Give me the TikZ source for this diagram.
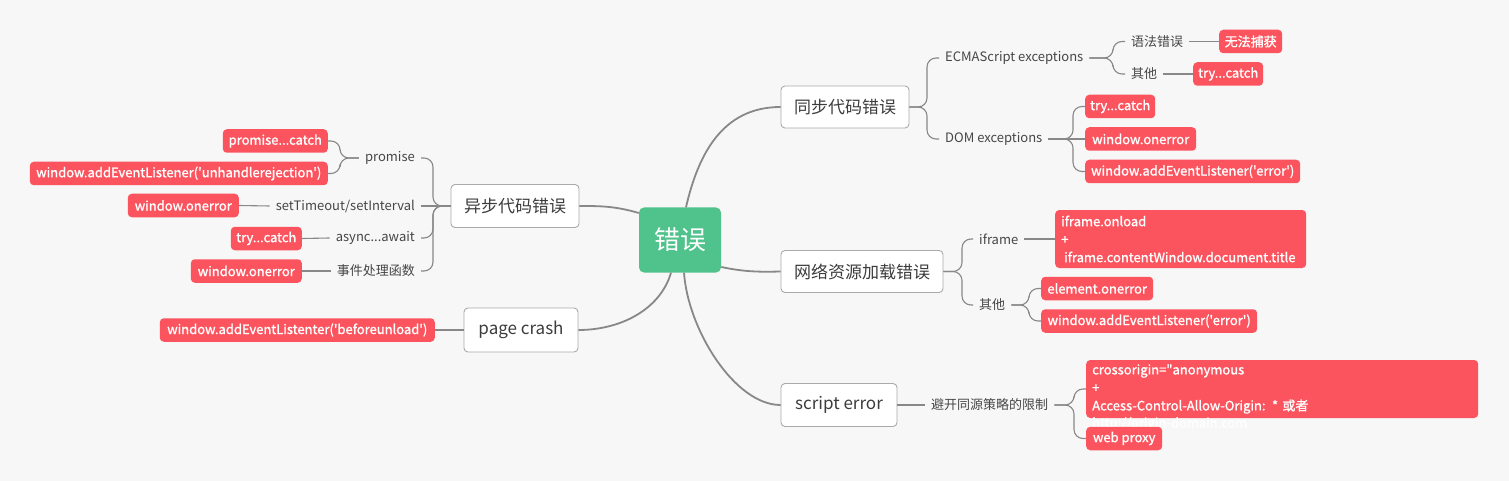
\documentclass[tikz,border=0pt]{standalone}
\usepackage{fontspec}
\setmainfont{Noto Sans CJK SC}
\newfontfamily\redfont{Noto Sans CJK SC}[FakeBold=1.2]
\newcommand{\sqt}{\char39\relax}
\newcommand{\dqt}{\char34\relax}
\usetikzlibrary{calc}
\definecolor{errred}{RGB}{252,84,94}
\definecolor{rootgreen}{RGB}{80,194,139}
\definecolor{bgcol}{RGB}{247,247,247}
\definecolor{boxline}{RGB}{170,170,170}
\definecolor{maintext}{RGB}{60,60,60}
\definecolor{lbltext}{RGB}{70,70,70}
\definecolor{conn}{RGB}{136,136,136}
\begin{document}
\begin{tikzpicture}[x=1pt,y=-1pt,
  mainbox/.style={draw=boxline, fill=white, rounded corners=4pt, line width=0.9pt, text=maintext, font=\fontsize{17}{20}\selectfont, inner sep=0pt},
  redbox/.style={fill=errred, rounded corners=4pt, text=white, font=\redfont\fontsize{13}{18}\selectfont, inner sep=0pt, minimum height=23.5pt},
  redmulti/.style={fill=errred, rounded corners=4pt, text=white, font=\redfont\fontsize{13}{18}\selectfont, inner xsep=6pt, inner ysep=0pt, align=left},
  lbl/.style={text=lbltext, font=\fontsize{13}{16}\selectfont, inner xsep=6pt, inner ysep=2pt},
  trunk/.style={draw=conn, line width=1.8pt},
  twig/.style={draw=conn, line width=1.1pt, rounded corners=9pt},
]
\fill[bgcol] (0,0) rectangle (1509,481);
\useasboundingbox (0,0) rectangle (1509,481);

% root and main boxes
\node[fill=rootgreen, rounded corners=5pt, minimum width=82pt, minimum height=65pt, inner sep=0pt, text=white, font=\fontsize{26}{30}\selectfont] (root) at (680,240) {错误};
\node[mainbox, minimum width=128pt, minimum height=42pt] (sync) at (845,107) {同步代码错误};
\node[mainbox, minimum width=162pt, minimum height=42pt] (net) at (862,271.5) {网络资源加载错误};
\node[mainbox, minimum width=116pt, minimum height=43pt] (script) at (839,405) {script error};
\node[mainbox, minimum width=128pt, minimum height=43pt] (async) at (515,206) {异步代码错误};
\node[mainbox, minimum width=114pt, minimum height=44pt] (crash) at (521,330) {page crash};

% trunks
\draw[trunk] ([xshift=6pt]root.north) .. controls (698,155) and (722,107) .. (sync.west);
\draw[trunk] ([yshift=-27pt]root.east) .. controls (745,272) and (760,272) .. (net.west);
\draw[trunk] ([xshift=4pt]root.south) .. controls (688,330) and (735,405) .. (script.west);
\draw[trunk] ([yshift=27pt]root.west) .. controls (615,206) and (600,206) .. (async.east);
\draw[trunk] ([xshift=-9pt]root.south) .. controls (660,310) and (620,330) .. (crash.east);

% ---- sync subtree
\node[lbl, anchor=west] (ecma) at (939,58) {ECMAScript exceptions};
\node[lbl, anchor=west] (dom) at (939,139) {DOM exceptions};
\node[lbl, anchor=west] (yufa) at (1125,41.5) {语法错误};
\node[lbl, anchor=west] (qita1) at (1125,74) {其他};
\node[redbox, anchor=west, minimum width=63pt] (wufa) at (1219,41.5) {无法捕获};
\node[redbox, anchor=west, minimum width=70pt] (try1) at (1193,74) {try...catch};
\node[redbox, anchor=west, minimum width=70pt] (try2) at (1085,106.5) {try...catch};
\node[redbox, anchor=west, minimum width=111pt] (onerr1) at (1085,139) {window.onerror};
\node[redbox, anchor=west, minimum width=215pt] (add1) at (1085,171.5) {window.addEventListener(\sqt error\sqt)};

\coordinate (jSync) at (927,107);
\draw[twig] (sync.east) -- (jSync) |- (ecma.west);
\draw[twig] (sync.east) -- (jSync) |- (dom.west);
\coordinate (jEcma) at (1113,58);
\draw[twig] (ecma.east) -- (jEcma) |- (yufa.west);
\draw[twig] (ecma.east) -- (jEcma) |- (qita1.west);
\draw[twig] (yufa.east) -- (wufa.west);
\draw[twig] (qita1.east) -- (try1.west);
\coordinate (jDom) at (1073,139);
\draw[twig] (dom.east) -- (jDom) |- (try2.west);
\draw[twig] (dom.east) -- (onerr1.west);
\draw[twig] (dom.east) -- (jDom) |- (add1.west);

% ---- net subtree
\node[lbl, anchor=west] (iframe) at (973,239) {iframe};
\node[lbl, anchor=west] (qita2) at (973,305) {其他};
\node[redmulti, anchor=west, text width=239pt, minimum height=58pt] (ifr) at (1055,239) {iframe.onload\\+\\\hspace*{3pt}iframe.contentWindow.document.title};
\node[redbox, anchor=west, minimum width=112pt] (elem) at (1041,288.5) {element.onerror};
\node[redbox, anchor=west, minimum width=216pt] (add2) at (1041,321) {window.addEventListener(\sqt error\sqt)};
\coordinate (jNet) at (962,271.5);
\draw[twig] (net.east) -- (jNet) |- (iframe.west);
\draw[twig] (net.east) -- (jNet) |- (qita2.west);
\draw[twig] (iframe.east) -- (iframe.east -| ifr.west);
\coordinate (jQita2) at (1029,305);
\draw[twig] (qita2.east) -- (jQita2) |- (elem.west);
\draw[twig] (qita2.east) -- (jQita2) |- (add2.west);

% ---- script subtree
\node[lbl, anchor=west] (bikai) at (925,405) {避开同源策略的限制};
\node[redmulti, anchor=west, text width=380pt, minimum height=58pt] (cross) at (1086,389) {crossorigin=\dqt anonymous\\+\\Access-Control-Allow-Origin: * 或者};
\node[text=white, font=\redfont\fontsize{13}{18}\selectfont, inner sep=0pt, anchor=west] (crossurl) at (1092,424) {http://origin-domain.com};
\node[redbox, anchor=west, minimum width=76pt] (proxy) at (1086,438.5) {web proxy};
\draw[twig] (script.east) -- (bikai.west);
\coordinate (jBikai) at (1074,405);
\draw[twig] (bikai.east) -- (jBikai) |- (cross.west);
\draw[twig] (bikai.east) -- (jBikai) |- (proxy.west);

% ---- async subtree
\node[lbl, anchor=east] (promise) at (421,158) {promise};
\node[lbl, anchor=east] (settime) at (421,206) {setTimeout/setInterval};
\node[lbl, anchor=east] (asyncaw) at (421,238) {async...await};
\node[lbl, anchor=east] (event) at (421,271) {事件处理函数};
\node[redbox, anchor=east, minimum width=105pt] (pcatch) at (328,141) {promise...catch};
\node[redbox, anchor=east, minimum width=298pt] (unh) at (328,173.5) {window.addEventListener(\sqt unhandlerejection\sqt)};
\node[redbox, anchor=east, minimum width=111pt] (onerr2) at (239,205.5) {window.onerror};
\node[redbox, anchor=east, minimum width=71pt] (try3) at (302,238.5) {try...catch};
\node[redbox, anchor=east, minimum width=111pt] (onerr3) at (302,271) {window.onerror};
\coordinate (jAsync) at (433,206);
\draw[twig] (async.west) -- (jAsync) |- (promise.east);
\draw[twig] (async.west) -- (settime.east);
\draw[twig] (async.west) -- (jAsync) |- (asyncaw.east);
\draw[twig] (async.west) -- (jAsync) |- (event.east);
\coordinate (jPromise) at (340,158);
\draw[twig] (promise.west) -- (jPromise) |- (pcatch.east);
\draw[twig] (promise.west) -- (jPromise) |- (unh.east);
\draw[twig] (settime.west) -- (onerr2.east);
\draw[twig] (asyncaw.west) -- (try3.east);
\draw[twig] (event.west) -- (onerr3.east);

% ---- crash subtree
\node[redbox, anchor=east, minimum width=275pt] (before) at (435,330) {window.addEventListenter(\sqt beforeunload\sqt)};
\draw[twig] (crash.west) -- (before.east);
\end{tikzpicture}
\end{document}
